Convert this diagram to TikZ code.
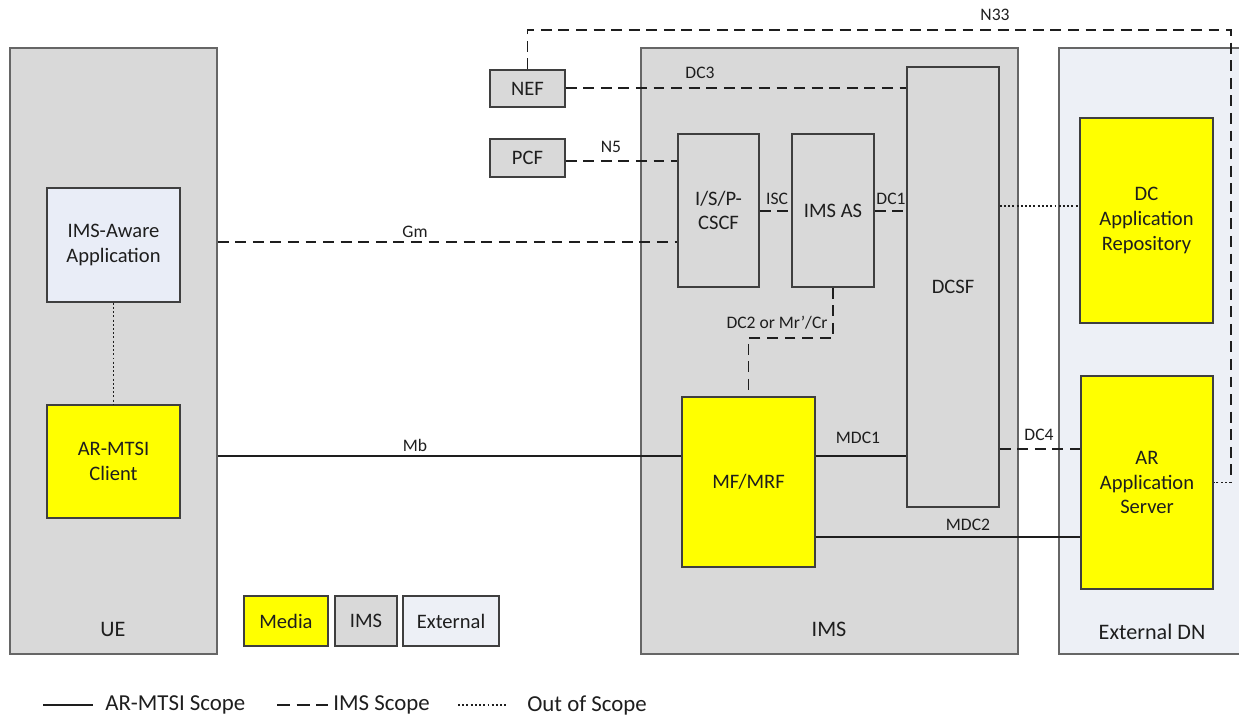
\documentclass[tikz,border=0pt]{standalone}
\usepackage{fontspec}
\setmainfont{Carlito}
\usetikzlibrary{fit}
\definecolor{imsgray}{HTML}{D9D9D9}
\definecolor{extfill}{HTML}{EDF0F6}
\definecolor{appfill}{HTML}{E9EDF7}
\definecolor{ymedia}{HTML}{FFFF00}
\definecolor{edgecol}{HTML}{3F3F3F}
\definecolor{outercol}{HTML}{666666}
\definecolor{txtcol}{HTML}{1E1E1E}
\begin{document}
\begin{tikzpicture}[x=0.02cm,y=-0.02cm,
  every node/.style={text=txtcol},
  wh/.style 2 args={minimum width=#1*0.02cm, minimum height=#2*0.02cm},
  box/.style={draw=edgecol, line width=0.8pt, inner sep=0pt, align=center,
    font=\fontsize{11.7}{14}\selectfont},
  gbox/.style={box, fill=imsgray},
  ybox/.style={box, fill=ymedia},
  ebox/.style={box, fill=extfill},
  abox/.style={box, fill=appfill},
  outer/.style={draw=outercol, line width=0.8pt, inner sep=0pt},
  lbl/.style={font=\fontsize{10}{12}\selectfont, inner sep=1pt},
  biglbl/.style={font=\fontsize{12.6}{15}\selectfont, inner sep=1pt},
  leglbl/.style={font=\fontsize{13}{15}\selectfont, inner sep=0pt, anchor=west},
  imsline/.style={draw=txtcol, line width=1.1pt, dash pattern=on 6.2pt off 3.8pt},
  legdash/.style={draw=txtcol, line width=1.1pt, dash pattern=on 7.6pt off 3.6pt},
  solidline/.style={draw=txtcol, line width=0.6pt},
  oosline/.style={draw=txtcol, line width=1.1pt, dash pattern=on 1.1pt off 1.3pt}]
\useasboundingbox (0,0) rectangle (1239,717);

% containers
\node[outer, fill=imsgray, fit={(10,48)(217,654)}] (ue) {};
\node[outer, fill=imsgray, fit={(641,48)(1018,654)}] (ims) {};
\node[outer, fill=extfill, fit={(1059,48)(1262,654)}] (edn) {};
\node[biglbl] (uelbl) at (113,629) {UE};
\node[biglbl] (imslbl) at (829,629) {IMS};
\node[biglbl] (ednlbl) at (1152,632) {External DN};

% UE boxes
\node[abox, wh={133}{114}] (app) at (113.5,245) {IMS-Aware\\Application};
\node[ybox, wh={133}{113}] (client) at (113.5,461.5) {AR-MTSI\\Client};

% core boxes
\node[gbox, wh={75}{37}] (nef) at (527.5,88.5) {NEF};
\node[gbox, wh={75}{38}] (pcf) at (527.5,158) {PCF};
\node[gbox, wh={81}{153}] (cscf) at (718.5,210.5) {I/S/P-\\CSCF};
\node[gbox, wh={82}{153}] (imsas) at (833,210.5) {IMS AS};
\node[gbox, wh={92}{440}] (dcsf) at (953,287) {DCSF};
\node[ybox, wh={133}{170}] (mrf) at (748.5,482) {MF/MRF};

% external boxes
\node[ybox, wh={133}{205}] (dcrepo) at (1146.5,220.5) {DC\\Application\\Repository};
\node[ybox, wh={132}{213}] (arserver) at (1147,482.5) {AR\\Application\\Server};

% legend boxes
\node[ybox, wh={84}{50}] (lgmedia) at (286,621) {Media};
\node[gbox, wh={62}{50}] (lgims) at (366,621) {IMS};
\node[ebox, wh={96}{50}] (lgext) at (451,621) {External};

% helper coordinates (levels)
\coordinate (yGm) at (0,242);
\coordinate (yMb) at (0,456);
\coordinate (yMDC2) at (0,537);
\coordinate (yDC4) at (0,449);
\coordinate (yDC3) at (0,88);
\coordinate (yN5) at (0,161);
\coordinate (yISC) at (0,211);
\coordinate (yOOS) at (0,206);
\coordinate (yDC2) at (0,338);
\coordinate (n33c) at (1231,30);

% connectors
\draw[oosline] (app.south) -- (client.north);
\draw[imsline] (ue.east |- yGm) -- (cscf.west |- yGm);
\draw[solidline] (ue.east |- yMb) -- (mrf.west |- yMb);
\draw[solidline] (mrf.east |- yMb) -- (dcsf.west |- yMb);
\draw[solidline] (mrf.east |- yMDC2) -- (arserver.west |- yMDC2);
\draw[imsline] (dcsf.east |- yDC4) -- (arserver.west |- yDC4);
\draw[imsline] (nef.east |- yDC3) -- (dcsf.west |- yDC3);
\draw[imsline] (pcf.east |- yN5) -- (cscf.west |- yN5);
\draw[imsline] (cscf.east |- yISC) -- (imsas.west |- yISC);
\draw[imsline] (imsas.east |- yISC) -- (dcsf.west |- yISC);
\draw[oosline] (dcsf.east |- yOOS) -- (dcrepo.west |- yOOS);
\draw[imsline] (imsas.south) |- (mrf.north |- yDC2) -- (mrf.north);
\draw[imsline] (nef.north) |- (n33c) -- (n33c |- arserver.east);
\draw[oosline] (n33c |- arserver.east) -- (arserver.east);

% connector labels
\node[lbl] (lN33) at (995,15) {N33};
\node[lbl] (lDC3) at (700,73) {DC3};
\node[lbl] (lN5) at (611,147) {N5};
\node[lbl] (lISC) at (777,199) {ISC};
\node[lbl] (lDC1) at (891,199) {DC1};
\node[lbl] (lGm) at (415,232) {Gm};
\node[lbl] (lMb) at (415,445) {Mb};
\node[lbl] (lDC2) at (777,323) {DC2 or Mr’/Cr};
\node[lbl] (lMDC1) at (858,438) {MDC1};
\node[lbl] (lDC4) at (1039,435) {DC4};
\node[lbl] (lMDC2) at (968,525) {MDC2};

% line legend
\coordinate (la1) at (43,705);
\coordinate (la2) at (93,705);
\coordinate (lb1) at (277,705);
\coordinate (lb2) at (328,705);
\coordinate (lc1) at (458,705);
\coordinate (lc2) at (508,705);
\draw[solidline] (la1) -- (la2);
\draw[legdash] (lb1) -- (lb2);
\draw[oosline, line width=0.8pt] (lc1) -- (lc2);
\node[leglbl] (lgt1) at (105,705) {AR-MTSI Scope};
\node[leglbl] (lgt2) at (333,705) {IMS Scope};
\node[leglbl] (lgt3) at (527,705) {Out of Scope};
\end{tikzpicture}
\end{document}
